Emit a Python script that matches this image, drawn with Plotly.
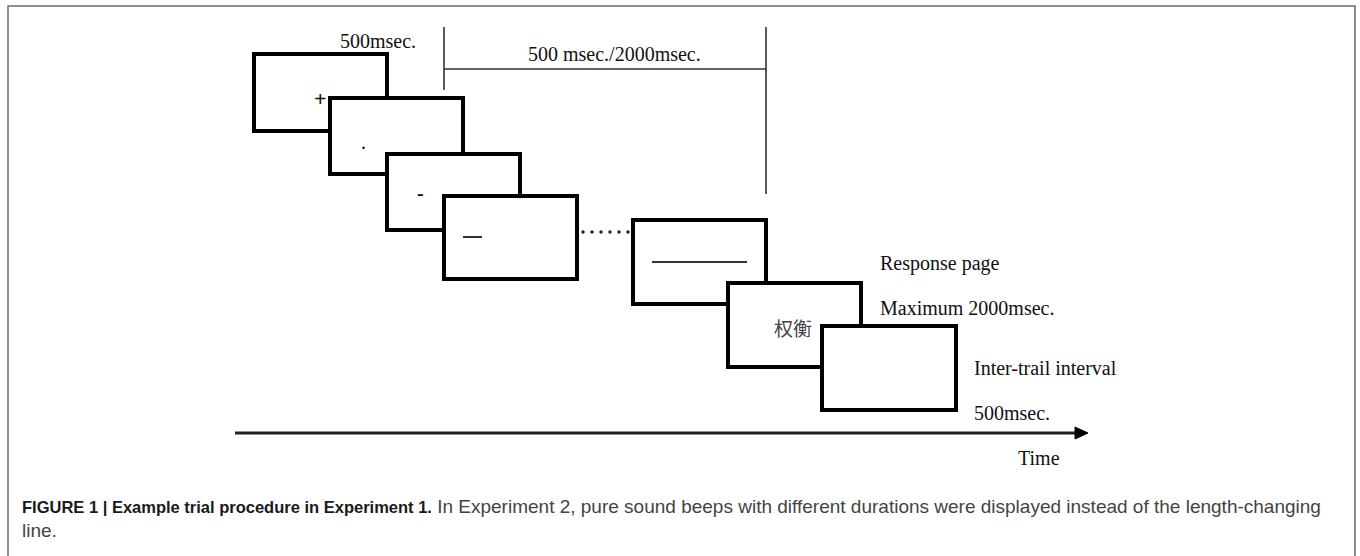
import plotly.graph_objects as go

# ── diagram geometry (pixel-like units, y grows downward) ─────────────────────
W, H = 1360, 556

# stimulus screens, drawn back to front
BOX_X0 = [254, 330, 387, 444, 633, 728, 822]
BOX_Y0 = [54, 98, 154, 196, 220, 283, 326]
BOX_W = [133, 133, 133, 133, 133, 133, 134]
BOX_H = [77, 76, 76, 83, 84, 84, 84]

# marks inside the screens
FIX_TEXT = ["<b>+</b>", ".", "<b>-</b>"]
FIX_SIZE = [22, 20, 20]
FIX_X = [320, 363, 420]
FIX_Y = [98, 142, 193]
LINE_X0 = [463, 652]
LINE_X1 = [482, 747]
LINE_Y = [237, 262]
WORD = "权衡"
WORD_XY = (793, 327)

# dots between screens
DOTS_X = [583, 592, 601, 610, 619, 628]
DOTS_Y = 232

# timing bracket
BRACKET_X = [444, 766]
BRACKET_TOP = 27
BRACKET_BOTTOM = [90, 194]
BRACKET_Y = 69

# labels
LABELS = [
    ("500msec.", 378, 41, "center"),
    ("500 msec./2000msec.", 614, 54, "center"),
    ("Response page", 878, 263, "left"),
    ("Maximum 2000msec.", 878, 308, "left"),
    ("Inter-trail interval", 972, 368, "left"),
    ("500msec.", 972, 413, "left"),
    ("Time", 1039, 458, "center"),
]

# time axis
ARROW_X0, ARROW_X1, ARROW_Y = 235, 1088, 433

CAPTION_BOLD = "FIGURE 1 | Example trial procedure in Experiment 1."
CAPTION_REST = (" In Experiment 2, pure sound beeps with different durations were "
                "displayed instead of the length-changing")
CAPTION_LINE2 = "line."

SERIF = "Liberation Serif, Times New Roman, serif"
SANS = "Liberation Sans, Arial, sans-serif"
INK = "#111111"

fig = go.Figure()

shapes = []
# outer frame (bottom edge falls below the picture)
shapes.append(dict(type="rect", x0=8, y0=6, x1=1355, y1=H + 20,
                   line=dict(color="#6b6b6b", width=1.5), layer="below"))

# bracket
for bx, bb in zip(BRACKET_X, BRACKET_BOTTOM):
    shapes.append(dict(type="line", x0=bx, x1=bx, y0=BRACKET_TOP, y1=bb,
                       line=dict(color="#333333", width=1.6)))
shapes.append(dict(type="line", x0=BRACKET_X[0], x1=BRACKET_X[1],
                   y0=BRACKET_Y, y1=BRACKET_Y,
                   line=dict(color="#333333", width=1.6)))

# screens
for x0, y0, w, h in zip(BOX_X0, BOX_Y0, BOX_W, BOX_H):
    shapes.append(dict(type="rect", x0=x0, y0=y0, x1=x0 + w, y1=y0 + h,
                       line=dict(color="black", width=4), fillcolor="white"))

# length lines
for lx0, lx1, ly in zip(LINE_X0, LINE_X1, LINE_Y):
    shapes.append(dict(type="line", x0=lx0, x1=lx1, y0=ly, y1=ly,
                       line=dict(color="#333333", width=2)))

# time axis line + head
shapes.append(dict(type="line", x0=ARROW_X0, x1=ARROW_X1 - 10, y0=ARROW_Y, y1=ARROW_Y,
                   line=dict(color="#222222", width=3)))
shapes.append(dict(type="path",
                   path=f"M {ARROW_X1 - 13} {ARROW_Y - 6} L {ARROW_X1} {ARROW_Y} "
                        f"L {ARROW_X1 - 13} {ARROW_Y + 6} Z",
                   fillcolor="black", line=dict(color="black", width=1)))

fig.update_layout(shapes=shapes)

# dots
fig.add_trace(go.Scatter(
    x=DOTS_X, y=[DOTS_Y] * len(DOTS_X), mode="markers",
    marker=dict(color="#222222", size=3.5), hoverinfo="skip", showlegend=False,
))

ann = []
for t, s, x, y in zip(FIX_TEXT, FIX_SIZE, FIX_X, FIX_Y):
    ann.append(dict(text=t, x=x, y=y, xref="x", yref="y", showarrow=False,
                    font=dict(family=SERIF, size=s, color=INK)))
ann.append(dict(text=WORD, x=WORD_XY[0], y=WORD_XY[1], xref="x", yref="y",
                showarrow=False,
                font=dict(family="Noto Sans CJK SC", size=19, color="#444444")))
for t, x, y, anc in LABELS:
    ann.append(dict(text=t, x=x, y=y, xref="x", yref="y", showarrow=False,
                    xanchor=anc, yanchor="middle",
                    font=dict(family=SERIF, size=20, color=INK)))

caption = (f"<span style='font-size:16.5px;fill:#1a1a1a'><b>{CAPTION_BOLD}</b></span>"
           f"<span style='font-size:19px'>{CAPTION_REST}</span>")
ann.append(dict(text=caption, x=20, y=506,
                xref="x", yref="y", showarrow=False, xanchor="left",
                font=dict(family=SANS, size=19, color="#444444")))
ann.append(dict(text=CAPTION_LINE2, x=20, y=530, xref="x", yref="y",
                showarrow=False, xanchor="left",
                font=dict(family=SANS, size=19, color="#444444")))

fig.update_layout(
    annotations=ann,
    width=W, height=H,
    margin=dict(l=0, r=0, t=0, b=0),
    paper_bgcolor="white", plot_bgcolor="white",
    xaxis=dict(range=[0, W], visible=False, fixedrange=True),
    yaxis=dict(range=[H, 0], visible=False, fixedrange=True),
    showlegend=False,
)

fig.write_html("out.html", config={"displayModeBar": False},
               post_script="document.body.style.margin='0';")
